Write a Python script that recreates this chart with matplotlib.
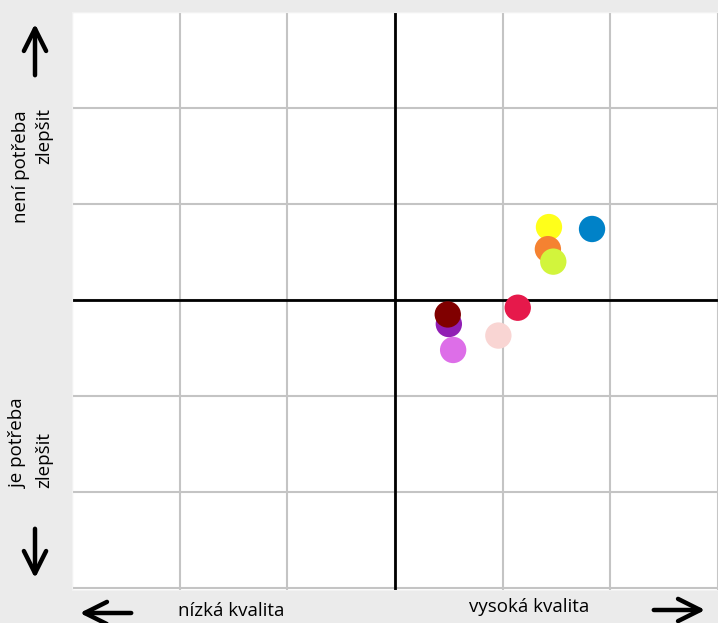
import matplotlib.pyplot as plt
from matplotlib.patches import FancyArrowPatch

# Quality (x) vs. need for improvement (y)
xs = [1.43, 1.42, 1.47, 1.83, 1.14, 0.96, 0.50, 0.49, 0.54]
ys = [0.76, 0.53, 0.40, 0.74, -0.08, -0.37, -0.25, -0.15, -0.52]
colors = ['#ffff1a', '#f58231', '#d2f53c', '#0082c8', '#e6194b',
          '#f9d5d3', '#911eb4', '#800000', '#dd6ee8']

grid_ticks = [-3, -2, -1, 0, 1, 2, 3]

plt.rcParams['font.family'] = ['Open Sans', 'DejaVu Sans']

fig = plt.figure(figsize=(7.18, 6.23), dpi=100, facecolor='#ebebeb')
W, H = 718, 623
ax = fig.add_axes([72 / W, (H - 590) / H, (718 - 72) / W, (590 - 12) / H])
ax.set_facecolor('white')

ax.set_xlim(-3, 2.98)
ax.set_ylim(-3.02, 2.98)
ax.set_xticks(grid_ticks)
ax.set_yticks(grid_ticks)
ax.grid(True, color='#c4c4c4', linewidth=1.5, zorder=0)
ax.tick_params(length=0, labelbottom=False, labelleft=False)
for s in ax.spines.values():
    s.set_color('#f2f2f2')

ax.axhline(0, color='black', linewidth=2, zorder=2)
ax.axvline(0, color='black', linewidth=2, zorder=2)

ax.scatter(xs, ys, s=360, c=colors, linewidths=0, zorder=3)

# axis captions
fs = 13.5
fig.text(21 / W, 1 - 110 / H, 'není potřeba', rotation=90, ha='center', va='top', fontsize=fs)
fig.text(44 / W, 1 - 108 / H, 'zlepšit', rotation=90, ha='center', va='top', fontsize=fs)
fig.text(18 / W, 1 - 488 / H, 'je potřeba', rotation=90, ha='center', va='bottom', fontsize=fs)
fig.text(44 / W, 1 - 488 / H, 'zlepšit', rotation=90, ha='center', va='bottom', fontsize=fs)
fig.text(231 / W, 1 - 611 / H, 'nízká kvalita', ha='center', va='center', fontsize=fs)
fig.text(529 / W, 1 - 607 / H, 'vysoká kvalita', ha='center', va='center', fontsize=fs)


def arrow(x0, y0, x1, y1):
    a = FancyArrowPatch((x0 / W, 1 - y0 / H), (x1 / W, 1 - y1 / H),
                        transform=fig.transFigure, arrowstyle='->',
                        mutation_scale=40, linewidth=3.2, color='black')
    fig.patches.append(a)


arrow(35, 78, 35, 21)
arrow(35, 526, 35, 581)
arrow(134, 613, 77, 613)
arrow(651, 610, 708, 610)

fig.savefig('out.png', dpi=100, facecolor=fig.get_facecolor())
